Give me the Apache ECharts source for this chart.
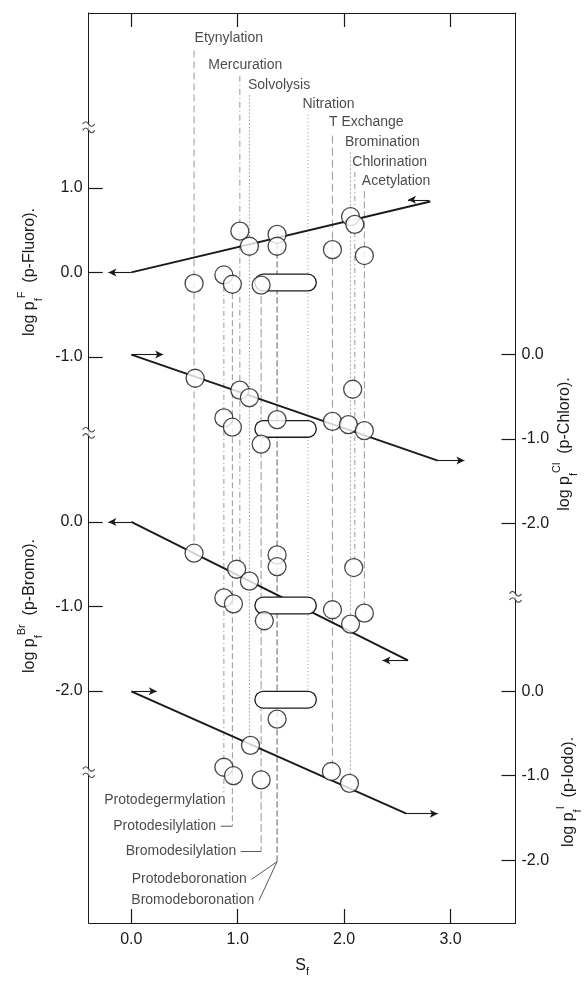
<!DOCTYPE html>
<html><head><meta charset="utf-8">
<script src="https://cdn.jsdelivr.net/npm/echarts@6/dist/echarts.min.js"></script>
<style>html,body{margin:0;padding:0;background:#fff}#c{width:587px;height:982px}</style>
</head><body><div id="c"></div>
<script>
// ---------------- data ----------------
const sfTicks = [0, 1, 2, 3];
const fluoroTicks = [1, 0, -1];
const chloroTicks = [0, -1, -2];
const bromoTicks = [0, -1, -2];
const iodoTicks = [0, -1, -2];

// log pf for p-Fluoro (left axis, upper)
const fluoroSf  = [0.59, 0.87, 0.95, 1.22, 1.02, 1.11, 1.37, 1.37, 1.89, 2.06, 2.10, 2.19];
const fluoroLog = [-0.13, -0.03, -0.14, -0.15, 0.49, 0.31, 0.45, 0.31, 0.27, 0.66, 0.57, 0.20];
// p-Chloro (right axis, upper)
const chloroSf  = [0.60, 1.02, 1.11, 0.87, 0.95, 1.37, 1.22, 1.89, 2.04, 2.19, 2.08];
const chloroLog = [-0.28, -0.42, -0.51, -0.75, -0.86, -0.77, -1.06, -0.79, -0.83, -0.90, -0.41];
// p-Bromo (left axis, lower)
const bromoSf   = [0.59, 0.99, 1.11, 1.37, 1.37, 0.87, 0.96, 1.25, 1.89, 2.06, 2.19, 2.09];
const bromoLog  = [-0.37, -0.56, -0.70, -0.39, -0.53, -0.90, -0.97, -1.17, -1.04, -1.21, -1.08, -0.54];
// p-Iodo (right axis, lower)
const iodoSf    = [1.37, 1.12, 0.87, 0.96, 1.22, 1.88, 2.05];
const iodoLog   = [-0.33, -0.64, -0.90, -1.00, -1.05, -0.95, -1.09];

// Sf range shown as an elongated (pill) marker, and its level in each panel (F, Cl, Br, I)
const rangeSf = [1.24, 1.66];
const rangeLevels = [-0.12, -0.88, -0.99, -0.10];

// correlation lines
const fluoroFitSf = [0, 2.81],  fluoroFitLog = [0, 0.84];
const chloroFitSf = [0, 2.88],  chloroFitLog = [0, -1.255];
const bromoFitSf  = [0, 2.60],  bromoFitLog  = [0, -1.64];
const iodoFitSf   = [0, 2.585], iodoFitLog   = [0, -1.45];

// arrows [fromSf, fromLog, toSf, toLog]
const fluoroArrows = [[0, 0, -0.215, 0], [2.80, 0.86, 2.60, 0.86]];
const chloroArrows = [[0.01, 0, 0.30, 0], [2.88, -1.255, 3.13, -1.255]];
const bromoArrows  = [[0, 0, -0.215, 0], [2.60, -1.64, 2.36, -1.64]];
const iodoArrows   = [[0.01, 0, 0.24, 0], [2.585, -1.45, 2.88, -1.45]];

// reactions labelled at the top (levels in p-Fluoro axis units)
const topNames = ['Etynylation', 'Mercuration', 'Solvolysis', 'Nitration', 'T Exchange', 'Bromination', 'Chlorination', 'Acetylation'];
const topSf = [0.59, 1.02, 1.11, 1.66, 1.89, 2.06, 2.10, 2.19];
const topLabelLevel = [2.78, 2.46, 2.22, 1.99, 1.78, 1.54, 1.31, 1.08];
const topLineStart = [2.63, 2.33, 2.10, 1.87, 1.62, 1.42, 1.19, 0.96];
const topLineEnd = [-3.32, -3.52, -5.60, -5.07, -5.91, -6.05, -3.50, -4.04];

// reactions labelled at the bottom (levels in p-Fluoro axis units)
const botNames = ['Protodegermylation', 'Protodesilylation', 'Bromodesilylation', 'Protodeboronation', 'Bromodeboronation'];
const botSf = [0.87, 0.95, 1.22, 1.37, 1.37];
const botLineStart = [-0.03, -0.14, -0.15, 0.45, 0.45];
const botLineEnd = [-6.16, -6.56, -6.86, -6.98, -6.98];
const botLabelSf = [0.90, 0.81, 1.00, 1.10, 1.17];
const botLabelLevel = [-6.25, -6.56, -6.86, -7.19, -7.44];

// axis breaks
const leftBreakLevels = [1.72, -1.90, -5.92];   // p-Fluoro units
const rightBreakLevels = [-2.87];               // p-Chloro units

// ---------------- layout / style ----------------
const FONT = '"Liberation Sans", Arial, sans-serif';
const INK = '#1a1a1a';
const GUIDE = '#8c8c8c';
const X_MIN = -0.4, X_MAX = 3.61;
const Y_SPAN = 10.78;
const fMax = 3.0733, clMax = 4.0469, brMax = 6.0293, iMax = 8.0352;

const topDash = [[7,4], [6,3,1,3], [1.5,2], [1,2.5], [8,4], [1.5,2.5], [5,3,1,3], [7,3]];
const botDash = [[5,3,1,3], [6,3], [8,3], [6,3], [6,3]];
const topShift = [0, -32, -2, -6, -4, -6, -3, -3];

function yAxisDef(max, pos, ticks, showLine) {
  return {
    type: 'value', position: pos, min: max - Y_SPAN, max: max,
    splitLine: {show: false},
    axisLine: {show: showLine, onZero: false, lineStyle: {color: INK, width: 1}},
    axisTick: {show: true, inside: true, length: 14, customValues: ticks, lineStyle: {color: INK, width: 1.2}},
    axisLabel: {show: true, customValues: ticks, formatter: v => v.toFixed(1), fontSize: 16, color: INK, fontFamily: FONT, margin: 6}
  };
}

const zip = (a, b) => a.map((x, i) => [x, b[i]]);
const series = [];

// guide lines for the reactions
topNames.forEach((n, i) => series.push({
  type: 'line', yAxisIndex: 0, silent: true, z: 1, symbol: 'none', clip: false,
  data: [[topSf[i], topLineStart[i]], [topSf[i], topLineEnd[i]]],
  lineStyle: {color: GUIDE, width: 0.9, type: topDash[i]}
}));
botNames.forEach((n, i) => {
  series.push({
    type: 'line', yAxisIndex: 0, silent: true, z: 1, symbol: 'none', clip: false,
    data: [[botSf[i], botLineStart[i]], [botSf[i], botLineEnd[i]]],
    lineStyle: {color: GUIDE, width: 0.9, type: botDash[i]}
  });
  if (i > 0) series.push({
    type: 'line', yAxisIndex: 0, silent: true, z: 1, symbol: 'none', clip: false,
    data: [[botSf[i], botLineEnd[i]], [botLabelSf[i] + 0.03, botLabelLevel[i]]],
    lineStyle: {color: '#444', width: 0.9}
  });
});

// reaction labels
series.push({
  type: 'scatter', yAxisIndex: 0, silent: true, z: 8, symbolSize: 1, clip: false,
  itemStyle: {color: 'transparent'},
  data: topNames.map((n, i) => ({
    name: n, value: [topSf[i], topLabelLevel[i]],
    label: {show: true, position: 'right', distance: 0, offset: [topShift[i], 0], formatter: n,
            fontSize: 14, color: INK, fontFamily: FONT}
  })).concat(botNames.map((n, i) => ({
    name: n, value: [botLabelSf[i], botLabelLevel[i]],
    label: {show: true, position: 'left', distance: 1, formatter: n,
            fontSize: 14, color: INK, fontFamily: FONT}
  })))
});

// correlation lines with arrows
function fitSeries(yi, sf, lg, arrows) {
  return {
    type: 'line', yAxisIndex: yi, silent: true, z: 2, symbol: 'none', clip: false,
    data: zip(sf, lg), lineStyle: {color: INK, width: 1.9},
    markLine: {
      silent: true, symbol: ['none', 'arrow'], symbolSize: [6, 8],
      label: {show: false}, lineStyle: {type: 'solid', color: INK, width: 1.1},
      data: arrows.map(a => [{coord: [a[0], a[1]]}, {coord: [a[2], a[3]]}])
    }
  };
}
series.push(fitSeries(0, fluoroFitSf, fluoroFitLog, fluoroArrows));
series.push(fitSeries(2, chloroFitSf, chloroFitLog, chloroArrows));
series.push(fitSeries(1, bromoFitSf, bromoFitLog, bromoArrows));
series.push(fitSeries(3, iodoFitSf, iodoFitLog, iodoArrows));

// pill-shaped range markers (outline + white fill)
[0, 2, 1, 3].forEach((yi, k) => {
  const lvl = rangeLevels[k];
  series.push({type: 'line', yAxisIndex: yi, silent: true, z: 3, symbol: 'none',
    data: rangeSf.map(s => [s, lvl]), lineStyle: {color: INK, width: 18, cap: 'round'}});
  series.push({type: 'line', yAxisIndex: yi, silent: true, z: 4, symbol: 'none',
    data: rangeSf.map(s => [s, lvl]), lineStyle: {color: '#fff', width: 15.4, cap: 'round'}});
});

// data circles
function circleSeries(name, yi, sf, lg) {
  return {type: 'scatter', name, yAxisIndex: yi, z: 5, symbol: 'circle', symbolSize: 18,
    itemStyle: {color: '#fff', borderColor: INK, borderWidth: 1.3}, data: zip(sf, lg)};
}
series.push(circleSeries('p-Fluoro', 0, fluoroSf, fluoroLog));
series.push(circleSeries('p-Chloro', 2, chloroSf, chloroLog));
series.push(circleSeries('p-Bromo', 1, bromoSf, bromoLog));
series.push(circleSeries('p-Iodo', 3, iodoSf, iodoLog));

// axis breaks
const wave = 'path://M0,4 C3,0 6,0 9,4 C12,8 15,8 18,4 M0,12 C3,8 6,8 9,12 C12,16 15,16 18,12';
[[0, X_MIN, leftBreakLevels], [2, X_MAX, rightBreakLevels]].forEach(([yi, x, lv]) => {
  series.push({type: 'scatter', yAxisIndex: yi, silent: true, z: 6, clip: false, symbol: 'rect',
    symbolSize: [5, 7], itemStyle: {color: '#fff'}, data: lv.map(v => [x, v])});
  series.push({type: 'scatter', yAxisIndex: yi, silent: true, z: 7, clip: false, symbol: wave,
    symbolSize: [12, 11], symbolKeepAspect: false,
    itemStyle: {color: 'transparent', borderColor: INK, borderWidth: 1.1}, data: lv.map(v => [x, v])});
});

function titleText(x, y, sup, rest) {
  return {type: 'text', x, y, rotation: Math.PI / 2, silent: true,
    style: {text: '{n|log p}{sub|f}{sup|' + sup + '}{n|  ' + rest + '}', align: 'center', verticalAlign: 'middle',
      rich: {
        n: {fontSize: 16, lineHeight: 28, fontFamily: FONT, fill: INK},
        sub: {fontSize: 11, verticalAlign: 'bottom', fontFamily: FONT, fill: INK},
        sup: {fontSize: 11, verticalAlign: 'top', fontFamily: FONT, fill: INK}
      }}};
}

const option = {
  animation: false,
  backgroundColor: '#fff',
  grid: {left: 88.7, right: 71.5, top: 13, bottom: 50, containLabel: false},
  xAxis: [{
    type: 'value', position: 'bottom', min: X_MIN, max: X_MAX,
    splitLine: {show: false},
    axisLine: {show: true, onZero: false, lineStyle: {color: INK, width: 1}},
    axisTick: {show: true, inside: true, length: 14, customValues: sfTicks, lineStyle: {color: INK, width: 1.2}},
    axisLabel: {customValues: sfTicks, formatter: v => v.toFixed(1), fontSize: 16, color: INK, fontFamily: FONT, margin: 9},
    name: '{s|S}{f|f}', nameLocation: 'middle', nameGap: 32,
    nameTextStyle: {rich: {s: {fontSize: 16, lineHeight: 22, fontFamily: FONT, color: INK},
                           f: {fontSize: 11, verticalAlign: 'bottom', fontFamily: FONT, color: INK}}}
  }, {
    type: 'value', position: 'top', min: X_MIN, max: X_MAX,
    splitLine: {show: false},
    axisLine: {show: true, onZero: false, lineStyle: {color: INK, width: 1}},
    axisTick: {show: true, inside: true, length: 14, customValues: sfTicks, lineStyle: {color: INK, width: 1.2}},
    axisLabel: {show: false}
  }],
  yAxis: [
    yAxisDef(fMax, 'left', fluoroTicks, true),
    yAxisDef(brMax, 'left', bromoTicks, false),
    yAxisDef(clMax, 'right', chloroTicks, true),
    yAxisDef(iMax, 'right', iodoTicks, false)
  ],
  graphic: [
    titleText(30, 272, 'F', '(p-Fluoro).'),
    titleText(30, 606, 'Br', '(p-Bromo).'),
    titleText(565, 444, 'Cl', '(p-Chloro).'),
    titleText(569, 792, 'I', '(p-Iodo).')
  ],
  series
};

const chart = echarts.init(document.getElementById('c'), null, {renderer: 'canvas'});
chart.setOption(option);
</script></body></html>
